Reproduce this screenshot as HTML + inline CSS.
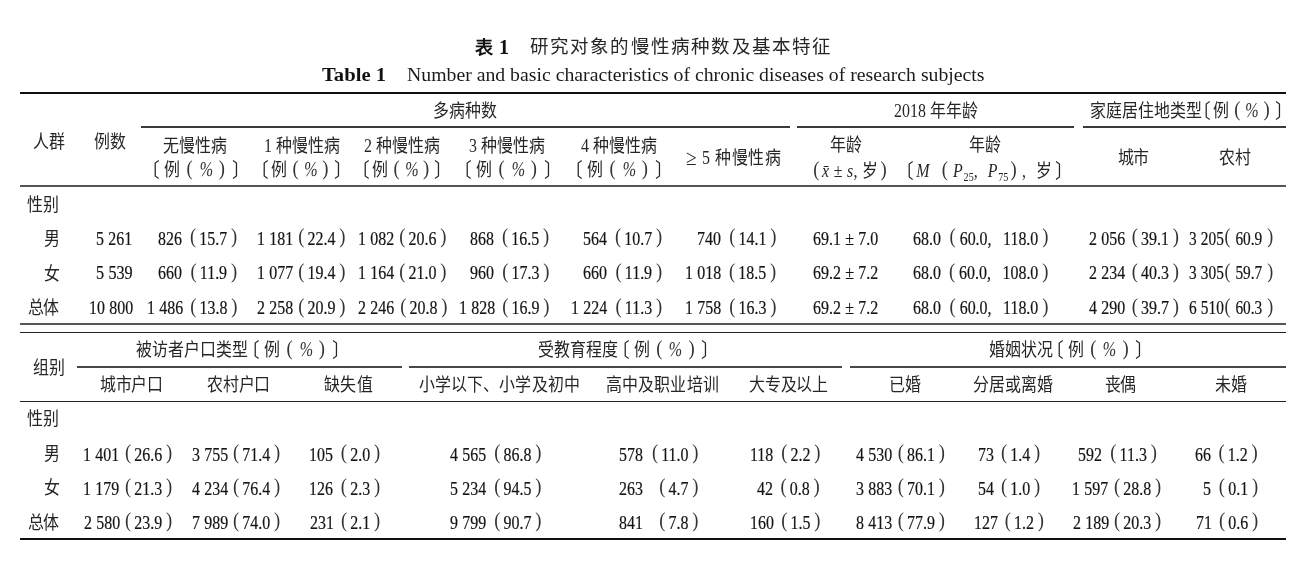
<!DOCTYPE html>
<html lang="zh-CN">
<head>
<meta charset="utf-8">
<title>表 1 研究对象的慢性病种数及基本特征</title>
<style>
html,body{margin:0;padding:0;background:#fff}
body{width:1300px;height:585px;position:relative;overflow:hidden;font-family:"Liberation Serif",serif;color:#222;filter:blur(.22px)}
.i{position:absolute;white-space:nowrap;line-height:24px;height:24px;transform-origin:0 0}
.c{font-family:"Liberation Serif",serif;color:#262626;word-spacing:0}
.n{font-family:"Liberation Serif",serif;color:#141414;word-spacing:.4px;-webkit-text-stroke:.2px #141414}
.hei{font-family:"Liberation Sans",sans-serif;font-weight:bold;color:#111}
.tb{font-family:"Liberation Serif",serif;font-weight:bold;color:#111}
.te{font-family:"Liberation Serif",serif;color:#1a1a1a}
.p{font-size:21px;position:relative;top:-1.6px;display:inline-block;line-height:1;color:#333;-webkit-text-stroke:0}
.h{margin:0 2.5px}
.pc{font-size:21px;display:inline-block;line-height:1;transform:scaleX(.86) skewX(-8deg);margin:0 -1.5px;color:#333}
.ge{font-size:22px;line-height:1;position:relative;top:.5px}
.lb{margin-left:-.7em;font-size:20px;line-height:1;position:relative;top:1px}
.rb{margin-right:-.7em;font-size:20px;line-height:1;position:relative;top:1px}
sub{font-size:11.5px;vertical-align:-3.5px;line-height:1;letter-spacing:0;margin-left:-2.5px}
.r{position:absolute}
</style>
</head>
<body>
<div class="r" style="left:20.0px;top:91.75px;width:1266.0px;height:2.20px;background:#111"></div>
<div class="r" style="left:141.0px;top:126.35px;width:648.7px;height:1.70px;background:#3a3a3a"></div>
<div class="r" style="left:797.3px;top:126.35px;width:276.7px;height:1.70px;background:#3a3a3a"></div>
<div class="r" style="left:1082.6px;top:126.35px;width:203.4px;height:1.70px;background:#3a3a3a"></div>
<div class="r" style="left:20.0px;top:184.85px;width:1266.0px;height:2.20px;background:#555"></div>
<div class="r" style="left:20.0px;top:322.90px;width:1266.0px;height:2.00px;background:#555"></div>
<div class="r" style="left:20.0px;top:331.90px;width:1266.0px;height:1.20px;background:#222"></div>
<div class="r" style="left:77.4px;top:365.80px;width:324.2px;height:2.00px;background:#484848"></div>
<div class="r" style="left:409.4px;top:365.80px;width:432.6px;height:2.00px;background:#484848"></div>
<div class="r" style="left:850.0px;top:365.80px;width:436.0px;height:2.00px;background:#484848"></div>
<div class="r" style="left:20.0px;top:400.60px;width:1266.0px;height:1.60px;background:#222"></div>
<div class="r" style="left:20.0px;top:538.30px;width:1266.0px;height:2.00px;background:#111"></div>
<div class="i hei" style="left:474.50px;top:35.53px;font-size:18px;">表</div>
<div class="i tb" style="left:499.00px;top:34.85px;font-size:20px;">1</div>
<div class="i c" style="left:529.50px;top:35.16px;font-size:18.5px;letter-spacing:1.214px;">研究对象的慢性病种数及基本特征</div>
<div class="i tb" style="left:322.00px;top:63.06px;font-size:18.5px;transform:scaleX(1.1149);">Table 1</div>
<div class="i te" style="left:406.50px;top:63.06px;font-size:18.5px;transform:scaleX(1.0677);">Number and basic characteristics of chronic diseases of research subjects</div>
<div class="i c" style="left:32.50px;top:130.23px;font-size:18px;letter-spacing:0.610px;transform:scaleX(0.8850);">人群</div>
<div class="i c" style="left:93.90px;top:130.23px;font-size:18px;letter-spacing:-0.294px;transform:scaleX(0.8850);">例数</div>
<div class="i c" style="left:433.10px;top:99.22px;font-size:18px;letter-spacing:0.105px;transform:scaleX(0.8850);">多病种数</div>
<div class="i c" style="left:893.50px;top:99.22px;font-size:18px;letter-spacing:0.059px;transform:scaleX(0.8850);">2018 年年龄</div>
<div class="i c" style="left:1089.50px;top:99.22px;font-size:18px;letter-spacing:0.092px;transform:scaleX(0.8850);">家庭居住地类型</div>
<div class="i c" style="left:1204.70px;top:99.22px;font-size:18px;letter-spacing:3.249px;transform:scaleX(0.8850);"><span class="lb">〔</span>例<span class="p h">(</span><span class="pc">%</span><span class="p h">)</span><span class="rb">〕</span></div>
<div class="i c" style="left:163.10px;top:133.93px;font-size:18px;letter-spacing:0.256px;transform:scaleX(0.8850);">无慢性病</div>
<div class="i c" style="left:153.70px;top:158.33px;font-size:18px;letter-spacing:5.057px;transform:scaleX(0.8850);"><span class="lb">〔</span>例<span class="p h">(</span><span class="pc">%</span><span class="p h">)</span><span class="rb">〕</span></div>
<div class="i c" style="left:263.90px;top:133.93px;font-size:18px;letter-spacing:-0.015px;transform:scaleX(0.8850);">1 种慢性病</div>
<div class="i c" style="left:262.70px;top:158.33px;font-size:18px;letter-spacing:3.475px;transform:scaleX(0.8850);"><span class="lb">〔</span>例<span class="p h">(</span><span class="pc">%</span><span class="p h">)</span><span class="rb">〕</span></div>
<div class="i c" style="left:363.90px;top:133.93px;font-size:18px;letter-spacing:0.120px;transform:scaleX(0.8850);">2 种慢性病</div>
<div class="i c" style="left:363.70px;top:158.33px;font-size:18px;letter-spacing:3.385px;transform:scaleX(0.8850);"><span class="lb">〔</span>例<span class="p h">(</span><span class="pc">%</span><span class="p h">)</span><span class="rb">〕</span></div>
<div class="i c" style="left:469.10px;top:133.93px;font-size:18px;letter-spacing:0.166px;transform:scaleX(0.8850);">3 种慢性病</div>
<div class="i c" style="left:465.70px;top:158.33px;font-size:18px;letter-spacing:5.057px;transform:scaleX(0.8850);"><span class="lb">〔</span>例<span class="p h">(</span><span class="pc">%</span><span class="p h">)</span><span class="rb">〕</span></div>
<div class="i c" style="left:580.50px;top:133.93px;font-size:18px;letter-spacing:0.166px;transform:scaleX(0.8850);">4 种慢性病</div>
<div class="i c" style="left:576.70px;top:158.33px;font-size:18px;letter-spacing:5.057px;transform:scaleX(0.8850);"><span class="lb">〔</span>例<span class="p h">(</span><span class="pc">%</span><span class="p h">)</span><span class="rb">〕</span></div>
<div class="i c" style="left:685.50px;top:146.33px;font-size:18px;letter-spacing:0.752px;transform:scaleX(0.8850);"><span class="ge">≥</span> 5 种慢性病</div>
<div class="i c" style="left:829.50px;top:133.23px;font-size:18px;letter-spacing:0.158px;transform:scaleX(0.8850);">年龄</div>
<div class="i c" style="left:810.50px;top:159.33px;font-size:18px;letter-spacing:0.359px;transform:scaleX(0.8850);"><span class="p h">(</span><i>x̄</i> ± <i>s</i>, 岁<span class="p h">)</span></div>
<div class="i c" style="left:968.50px;top:133.23px;font-size:18px;letter-spacing:0.158px;transform:scaleX(0.8850);">年龄</div>
<div class="i c" style="left:907.70px;top:159.33px;font-size:18px;letter-spacing:3.354px;transform:scaleX(0.8850);"><span class="lb">〔</span><i>M</i> <span class="p h">(</span><i>P</i><sub>25</sub>, <i>P</i><sub>75</sub><span class="p h">)</span>, 岁<span class="rb">〕</span></div>
<div class="i c" style="left:1117.50px;top:145.93px;font-size:18px;letter-spacing:-0.972px;transform:scaleX(0.8850);">城市</div>
<div class="i c" style="left:1218.50px;top:145.93px;font-size:18px;letter-spacing:0.158px;transform:scaleX(0.8850);">农村</div>
<div class="i c" style="left:26.90px;top:192.73px;font-size:18px;letter-spacing:0.158px;transform:scaleX(0.8850);">性别</div>
<div class="i c" style="left:43.50px;top:227.23px;font-size:18px;letter-spacing:-0.599px;transform:scaleX(0.8850);">男</div>
<div class="i c" style="left:43.50px;top:261.62px;font-size:18px;letter-spacing:-0.599px;transform:scaleX(0.8850);">女</div>
<div class="i c" style="left:27.50px;top:296.02px;font-size:18px;letter-spacing:-0.520px;transform:scaleX(0.8850);">总体</div>
<div class="i n" style="left:96.40px;top:226.93px;font-size:18px;transform:scaleX(0.8825);">5 261</div>
<div class="i n" style="left:158.40px;top:226.93px;font-size:18px;transform:scaleX(0.8850);">826<span class="p" style="margin-left:9.07px">(</span><span style="margin-left:3.52px">15.7</span><span class="p" style="margin-left:4.31px">)</span></div>
<div class="i n" style="left:257.00px;top:226.93px;font-size:18px;transform:scaleX(0.8850);">1 181<span class="p" style="margin-left:5.78px">(</span><span style="margin-left:3.52px">22.4</span><span class="p" style="margin-left:4.31px">)</span></div>
<div class="i n" style="left:358.00px;top:226.93px;font-size:18px;transform:scaleX(0.8850);">1 082<span class="p" style="margin-left:5.78px">(</span><span style="margin-left:3.52px">20.6</span><span class="p" style="margin-left:4.31px">)</span></div>
<div class="i n" style="left:470.40px;top:226.93px;font-size:18px;transform:scaleX(0.8850);">868<span class="p" style="margin-left:9.07px">(</span><span style="margin-left:3.52px">16.5</span><span class="p" style="margin-left:4.31px">)</span></div>
<div class="i n" style="left:583.00px;top:226.93px;font-size:18px;transform:scaleX(0.8850);">564<span class="p" style="margin-left:9.07px">(</span><span style="margin-left:3.52px">10.7</span><span class="p" style="margin-left:4.31px">)</span></div>
<div class="i n" style="left:697.00px;top:226.93px;font-size:18px;transform:scaleX(0.8850);">740<span class="p" style="margin-left:9.52px">(</span><span style="margin-left:3.52px">14.1</span><span class="p" style="margin-left:4.31px">)</span></div>
<div class="i n" style="left:1088.60px;top:226.93px;font-size:18px;transform:scaleX(0.8850);">2 056<span class="p" style="margin-left:7.36px">(</span><span style="margin-left:3.52px">39.1</span><span class="p" style="margin-left:4.31px">)</span></div>
<div class="i n" style="left:96.40px;top:261.32px;font-size:18px;transform:scaleX(0.8972);">5 539</div>
<div class="i n" style="left:158.40px;top:261.32px;font-size:18px;transform:scaleX(0.8850);">660<span class="p" style="margin-left:9.72px">(</span><span style="margin-left:3.52px">11.9</span><span class="p" style="margin-left:4.31px">)</span></div>
<div class="i n" style="left:257.00px;top:261.32px;font-size:18px;transform:scaleX(0.8850);">1 077<span class="p" style="margin-left:5.78px">(</span><span style="margin-left:3.52px">19.4</span><span class="p" style="margin-left:4.31px">)</span></div>
<div class="i n" style="left:358.00px;top:261.32px;font-size:18px;transform:scaleX(0.8850);">1 164<span class="p" style="margin-left:5.78px">(</span><span style="margin-left:3.52px">21.0</span><span class="p" style="margin-left:4.31px">)</span></div>
<div class="i n" style="left:470.00px;top:261.32px;font-size:18px;transform:scaleX(0.8850);">960<span class="p" style="margin-left:9.52px">(</span><span style="margin-left:3.52px">17.3</span><span class="p" style="margin-left:4.31px">)</span></div>
<div class="i n" style="left:583.00px;top:261.32px;font-size:18px;transform:scaleX(0.8850);">660<span class="p" style="margin-left:9.72px">(</span><span style="margin-left:3.52px">11.9</span><span class="p" style="margin-left:4.31px">)</span></div>
<div class="i n" style="left:685.40px;top:261.32px;font-size:18px;transform:scaleX(0.8850);">1 018<span class="p" style="margin-left:8.72px">(</span><span style="margin-left:3.52px">18.5</span><span class="p" style="margin-left:4.31px">)</span></div>
<div class="i n" style="left:1088.60px;top:261.32px;font-size:18px;transform:scaleX(0.8850);">2 234<span class="p" style="margin-left:7.36px">(</span><span style="margin-left:3.52px">40.3</span><span class="p" style="margin-left:4.31px">)</span></div>
<div class="i n" style="left:89.00px;top:296.32px;font-size:18px;transform:scaleX(0.8837);">10 800</div>
<div class="i n" style="left:147.00px;top:296.32px;font-size:18px;transform:scaleX(0.8850);">1 486<span class="p" style="margin-left:8.04px">(</span><span style="margin-left:3.52px">13.8</span><span class="p" style="margin-left:4.31px">)</span></div>
<div class="i n" style="left:257.00px;top:296.32px;font-size:18px;transform:scaleX(0.8850);">2 258<span class="p" style="margin-left:5.78px">(</span><span style="margin-left:3.52px">20.9</span><span class="p" style="margin-left:4.31px">)</span></div>
<div class="i n" style="left:358.00px;top:296.32px;font-size:18px;transform:scaleX(0.8850);">2 246<span class="p" style="margin-left:6.91px">(</span><span style="margin-left:3.52px">20.8</span><span class="p" style="margin-left:4.31px">)</span></div>
<div class="i n" style="left:459.00px;top:296.32px;font-size:18px;transform:scaleX(0.8850);">1 828<span class="p" style="margin-left:8.04px">(</span><span style="margin-left:3.52px">16.9</span><span class="p" style="margin-left:4.31px">)</span></div>
<div class="i n" style="left:571.00px;top:296.32px;font-size:18px;transform:scaleX(0.8850);">1 224<span class="p" style="margin-left:9.38px">(</span><span style="margin-left:3.52px">11.3</span><span class="p" style="margin-left:4.31px">)</span></div>
<div class="i n" style="left:685.00px;top:296.32px;font-size:18px;transform:scaleX(0.8850);">1 758<span class="p" style="margin-left:9.17px">(</span><span style="margin-left:3.52px">16.3</span><span class="p" style="margin-left:4.31px">)</span></div>
<div class="i n" style="left:1088.60px;top:296.32px;font-size:18px;transform:scaleX(0.8850);">4 290<span class="p" style="margin-left:7.36px">(</span><span style="margin-left:3.52px">39.7</span><span class="p" style="margin-left:4.31px">)</span></div>
<div class="i n" style="left:813.00px;top:226.93px;font-size:18px;word-spacing:0.336px;transform:scaleX(0.8850);">69.1 ± 7.0</div>
<div class="i n" style="left:813.00px;top:261.32px;font-size:18px;word-spacing:0.336px;transform:scaleX(0.8850);">69.2 ± 7.2</div>
<div class="i n" style="left:813.00px;top:296.32px;font-size:18px;word-spacing:0.336px;transform:scaleX(0.8850);">69.2 ± 7.2</div>
<div class="i n" style="left:913.00px;top:226.93px;font-size:18px;transform:scaleX(0.8850);">68.0<span class="p" style="margin-left:9.76px">(</span><span style="margin-left:4.5px">60.0,</span><span style="margin-left:13px">118.0</span><span class="p" style="margin-left:4.5px">)</span></div>
<div class="i n" style="left:913.00px;top:261.32px;font-size:18px;transform:scaleX(0.8850);">68.0<span class="p" style="margin-left:9.11px">(</span><span style="margin-left:4.5px">60.0,</span><span style="margin-left:13px">108.0</span><span class="p" style="margin-left:4.5px">)</span></div>
<div class="i n" style="left:913.00px;top:296.32px;font-size:18px;transform:scaleX(0.8850);">68.0<span class="p" style="margin-left:9.76px">(</span><span style="margin-left:4.5px">60.0,</span><span style="margin-left:13px">118.0</span><span class="p" style="margin-left:4.5px">)</span></div>
<div class="i n" style="left:1189.40px;top:226.93px;font-size:18px;transform:scaleX(0.8518);">3 205<span class="p" style="margin-left:0.80px">(</span><span style="margin-left:5.78px">60.9</span><span class="p" style="margin-left:5.78px">)</span></div>
<div class="i n" style="left:1189.40px;top:261.32px;font-size:18px;transform:scaleX(0.8518);">3 305<span class="p" style="margin-left:0.80px">(</span><span style="margin-left:5.78px">59.7</span><span class="p" style="margin-left:5.78px">)</span></div>
<div class="i n" style="left:1189.40px;top:296.32px;font-size:18px;transform:scaleX(0.8518);">6 510<span class="p" style="margin-left:0.80px">(</span><span style="margin-left:5.78px">60.3</span><span class="p" style="margin-left:5.78px">)</span></div>
<div class="i c" style="left:32.50px;top:356.23px;font-size:18px;letter-spacing:0.158px;transform:scaleX(0.8850);">组别</div>
<div class="i c" style="left:136.10px;top:338.23px;font-size:18px;letter-spacing:0.168px;transform:scaleX(0.8850);">被访者户口类型</div>
<div class="i c" style="left:253.70px;top:338.23px;font-size:18px;letter-spacing:5.057px;transform:scaleX(0.8850);"><span class="lb">〔</span>例<span class="p h">(</span><span class="pc">%</span><span class="p h">)</span><span class="rb">〕</span></div>
<div class="i c" style="left:538.10px;top:338.23px;font-size:18px;letter-spacing:0.212px;transform:scaleX(0.8850);">受教育程度</div>
<div class="i c" style="left:624.20px;top:338.23px;font-size:18px;letter-spacing:4.944px;transform:scaleX(0.8850);"><span class="lb">〔</span>例<span class="p h">(</span><span class="pc">%</span><span class="p h">)</span><span class="rb">〕</span></div>
<div class="i c" style="left:989.10px;top:338.23px;font-size:18px;letter-spacing:0.068px;transform:scaleX(0.8850);">婚姻状况</div>
<div class="i c" style="left:1058.20px;top:338.23px;font-size:18px;letter-spacing:4.944px;transform:scaleX(0.8850);"><span class="lb">〔</span>例<span class="p h">(</span><span class="pc">%</span><span class="p h">)</span><span class="rb">〕</span></div>
<div class="i c" style="left:99.50px;top:373.03px;font-size:18px;letter-spacing:-0.271px;transform:scaleX(0.8850);">城市户口</div>
<div class="i c" style="left:207.10px;top:373.03px;font-size:18px;letter-spacing:-0.121px;transform:scaleX(0.8850);">农村户口</div>
<div class="i c" style="left:323.90px;top:373.03px;font-size:18px;letter-spacing:0.458px;transform:scaleX(0.8850);">缺失值</div>
<div class="i c" style="left:418.50px;top:373.03px;font-size:18px;letter-spacing:0.163px;transform:scaleX(0.8850);">小学以下、小学及初中</div>
<div class="i c" style="left:605.50px;top:373.03px;font-size:18px;letter-spacing:0.205px;transform:scaleX(0.8850);">高中及职业培训</div>
<div class="i c" style="left:748.50px;top:373.03px;font-size:18px;letter-spacing:-0.184px;transform:scaleX(0.8850);">大专及以上</div>
<div class="i c" style="left:888.50px;top:373.03px;font-size:18px;letter-spacing:-0.294px;transform:scaleX(0.8850);">已婚</div>
<div class="i c" style="left:972.50px;top:373.03px;font-size:18px;letter-spacing:0.212px;transform:scaleX(0.8850);">分居或离婚</div>
<div class="i c" style="left:1105.10px;top:373.03px;font-size:18px;letter-spacing:-0.520px;transform:scaleX(0.8850);">丧偶</div>
<div class="i c" style="left:1214.50px;top:373.03px;font-size:18px;letter-spacing:0.158px;transform:scaleX(0.8850);">未婚</div>
<div class="i c" style="left:26.90px;top:407.23px;font-size:18px;letter-spacing:0.158px;transform:scaleX(0.8850);">性别</div>
<div class="i c" style="left:43.50px;top:442.33px;font-size:18px;letter-spacing:-0.599px;transform:scaleX(0.8850);">男</div>
<div class="i c" style="left:43.50px;top:476.33px;font-size:18px;letter-spacing:-0.599px;transform:scaleX(0.8850);">女</div>
<div class="i c" style="left:27.50px;top:511.22px;font-size:18px;letter-spacing:-0.520px;transform:scaleX(0.8850);">总体</div>
<div class="i n" style="left:83.00px;top:442.53px;font-size:18px;transform:scaleX(0.8850);">1 401<span class="p" style="margin-left:6.46px">(</span><span style="margin-left:3.52px">26.6</span><span class="p" style="margin-left:4.31px">)</span></div>
<div class="i n" style="left:192.00px;top:442.53px;font-size:18px;transform:scaleX(0.8850);">3 755<span class="p" style="margin-left:5.33px">(</span><span style="margin-left:3.52px">71.4</span><span class="p" style="margin-left:4.31px">)</span></div>
<div class="i n" style="left:309.00px;top:442.53px;font-size:18px;transform:scaleX(0.8850);">105<span class="p" style="margin-left:9.03px">(</span><span style="margin-left:3.52px">2.0</span><span class="p" style="margin-left:4.31px">)</span></div>
<div class="i n" style="left:450.00px;top:442.53px;font-size:18px;transform:scaleX(0.8850);">4 565<span class="p" style="margin-left:9.17px">(</span><span style="margin-left:3.52px">86.8</span><span class="p" style="margin-left:4.31px">)</span></div>
<div class="i n" style="left:618.60px;top:442.53px;font-size:18px;transform:scaleX(0.8850);">578<span class="p" style="margin-left:10.17px">(</span><span style="margin-left:3.52px">11.0</span><span class="p" style="margin-left:4.31px">)</span></div>
<div class="i n" style="left:749.60px;top:442.53px;font-size:18px;transform:scaleX(0.8850);">118<span class="p" style="margin-left:9.00px">(</span><span style="margin-left:3.52px">2.2</span><span class="p" style="margin-left:4.31px">)</span></div>
<div class="i n" style="left:856.00px;top:442.53px;font-size:18px;transform:scaleX(0.8850);">4 530<span class="p" style="margin-left:6.23px">(</span><span style="margin-left:3.52px">86.1</span><span class="p" style="margin-left:4.31px">)</span></div>
<div class="i n" style="left:978.00px;top:442.53px;font-size:18px;transform:scaleX(0.8850);">73<span class="p" style="margin-left:7.86px">(</span><span style="margin-left:3.52px">1.4</span><span class="p" style="margin-left:4.31px">)</span></div>
<div class="i n" style="left:1077.60px;top:442.53px;font-size:18px;transform:scaleX(0.8850);">592<span class="p" style="margin-left:9.50px">(</span><span style="margin-left:3.52px">11.3</span><span class="p" style="margin-left:4.31px">)</span></div>
<div class="i n" style="left:1195.40px;top:442.53px;font-size:18px;transform:scaleX(0.8850);">66<span class="p" style="margin-left:8.53px">(</span><span style="margin-left:3.52px">1.2</span><span class="p" style="margin-left:4.31px">)</span></div>
<div class="i n" style="left:83.00px;top:476.53px;font-size:18px;transform:scaleX(0.8850);">1 179<span class="p" style="margin-left:6.46px">(</span><span style="margin-left:3.52px">21.3</span><span class="p" style="margin-left:4.31px">)</span></div>
<div class="i n" style="left:192.00px;top:476.53px;font-size:18px;transform:scaleX(0.8850);">4 234<span class="p" style="margin-left:5.33px">(</span><span style="margin-left:3.52px">76.4</span><span class="p" style="margin-left:4.31px">)</span></div>
<div class="i n" style="left:309.00px;top:476.53px;font-size:18px;transform:scaleX(0.8850);">126<span class="p" style="margin-left:9.03px">(</span><span style="margin-left:3.52px">2.3</span><span class="p" style="margin-left:4.31px">)</span></div>
<div class="i n" style="left:450.00px;top:476.53px;font-size:18px;transform:scaleX(0.8850);">5 234<span class="p" style="margin-left:9.17px">(</span><span style="margin-left:3.52px">94.5</span><span class="p" style="margin-left:4.31px">)</span></div>
<div class="i n" style="left:618.60px;top:476.53px;font-size:18px;transform:scaleX(0.8850);">263<span class="p" style="margin-left:18.52px">(</span><span style="margin-left:3.52px">4.7</span><span class="p" style="margin-left:4.31px">)</span></div>
<div class="i n" style="left:757.40px;top:476.53px;font-size:18px;transform:scaleX(0.8850);">42<span class="p" style="margin-left:8.53px">(</span><span style="margin-left:3.52px">0.8</span><span class="p" style="margin-left:4.31px">)</span></div>
<div class="i n" style="left:856.00px;top:476.53px;font-size:18px;transform:scaleX(0.8850);">3 883<span class="p" style="margin-left:6.23px">(</span><span style="margin-left:3.52px">70.1</span><span class="p" style="margin-left:4.31px">)</span></div>
<div class="i n" style="left:978.00px;top:476.53px;font-size:18px;transform:scaleX(0.8850);">54<span class="p" style="margin-left:7.86px">(</span><span style="margin-left:3.52px">1.0</span><span class="p" style="margin-left:4.31px">)</span></div>
<div class="i n" style="left:1072.40px;top:476.53px;font-size:18px;transform:scaleX(0.8850);">1 597<span class="p" style="margin-left:6.46px">(</span><span style="margin-left:3.52px">28.8</span><span class="p" style="margin-left:4.31px">)</span></div>
<div class="i n" style="left:1203.00px;top:476.53px;font-size:18px;transform:scaleX(0.8850);">5<span class="p" style="margin-left:8.95px">(</span><span style="margin-left:3.52px">0.1</span><span class="p" style="margin-left:4.31px">)</span></div>
<div class="i n" style="left:84.00px;top:510.93px;font-size:18px;transform:scaleX(0.8850);">2 580<span class="p" style="margin-left:5.33px">(</span><span style="margin-left:3.52px">23.9</span><span class="p" style="margin-left:4.31px">)</span></div>
<div class="i n" style="left:192.00px;top:510.93px;font-size:18px;transform:scaleX(0.8850);">7 989<span class="p" style="margin-left:5.33px">(</span><span style="margin-left:3.52px">74.0</span><span class="p" style="margin-left:4.31px">)</span></div>
<div class="i n" style="left:310.00px;top:510.93px;font-size:18px;transform:scaleX(0.8850);">231<span class="p" style="margin-left:7.90px">(</span><span style="margin-left:3.52px">2.1</span><span class="p" style="margin-left:4.31px">)</span></div>
<div class="i n" style="left:450.00px;top:510.93px;font-size:18px;transform:scaleX(0.8850);">9 799<span class="p" style="margin-left:9.17px">(</span><span style="margin-left:3.52px">90.7</span><span class="p" style="margin-left:4.31px">)</span></div>
<div class="i n" style="left:618.60px;top:510.93px;font-size:18px;transform:scaleX(0.8850);">841<span class="p" style="margin-left:18.52px">(</span><span style="margin-left:3.52px">7.8</span><span class="p" style="margin-left:4.31px">)</span></div>
<div class="i n" style="left:749.60px;top:510.93px;font-size:18px;transform:scaleX(0.8850);">160<span class="p" style="margin-left:8.35px">(</span><span style="margin-left:3.52px">1.5</span><span class="p" style="margin-left:4.31px">)</span></div>
<div class="i n" style="left:856.00px;top:510.93px;font-size:18px;transform:scaleX(0.8850);">8 413<span class="p" style="margin-left:6.23px">(</span><span style="margin-left:3.52px">77.9</span><span class="p" style="margin-left:4.31px">)</span></div>
<div class="i n" style="left:973.60px;top:510.93px;font-size:18px;transform:scaleX(0.8850);">127<span class="p" style="margin-left:7.67px">(</span><span style="margin-left:3.52px">1.2</span><span class="p" style="margin-left:4.31px">)</span></div>
<div class="i n" style="left:1073.40px;top:510.93px;font-size:18px;transform:scaleX(0.8850);">2 189<span class="p" style="margin-left:5.33px">(</span><span style="margin-left:3.52px">20.3</span><span class="p" style="margin-left:4.31px">)</span></div>
<div class="i n" style="left:1196.00px;top:510.93px;font-size:18px;transform:scaleX(0.8850);">71<span class="p" style="margin-left:7.86px">(</span><span style="margin-left:3.52px">0.6</span><span class="p" style="margin-left:4.31px">)</span></div>
</body>
</html>
